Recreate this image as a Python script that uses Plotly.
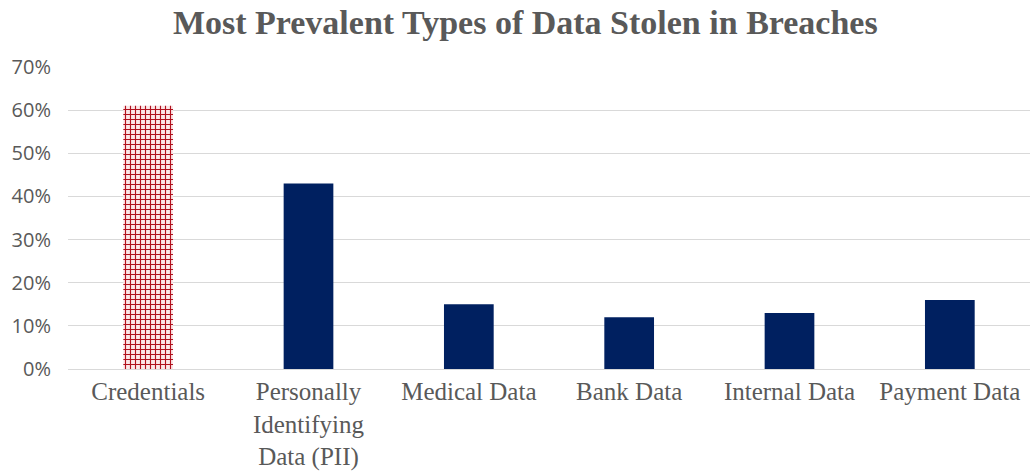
import plotly.graph_objects as go

categories = ["Credentials", "Personally<br>Identifying<br>Data (PII)", "Medical Data",
              "Bank Data", "Internal Data", "Payment Data"]
values = [0.61, 0.43, 0.15, 0.12, 0.13, 0.16]
tick_vals = [0, 0.1, 0.2, 0.3, 0.4, 0.5, 0.6, 0.7]
tick_text = ["0%", "10%", "20%", "30%", "40%", "50%", "60%", "70%"]

navy = "#002060"
red = "#b0101c"

fig = go.Figure()
fig.add_trace(go.Bar(
    x=categories[1:], y=values[1:], width=0.31,
    marker=dict(color=navy, line=dict(width=0)),
))
fig.add_trace(go.Bar(
    x=categories[:1], y=values[:1], width=0.31,
    marker=dict(color="#f6d6d8", line=dict(width=0),
                pattern=dict(shape="+", fgcolor=red, bgcolor="#fbe6e7",
                             fillmode="replace", size=5, solidity=0.4)),
))

fig.update_layout(
    width=1030, height=472,
    margin=dict(l=68, r=0, t=67, b=103),
    paper_bgcolor="white", plot_bgcolor="white",
    title=dict(text="<b>Most Prevalent Types of Data Stolen in Breaches</b>",
               x=0.51, xanchor="center", y=0.953, yanchor="middle",
               font=dict(family="Liberation Serif", size=34, color="#595959")),
    showlegend=False,
    barmode="overlay",
)
fig.update_yaxes(range=[0, 0.7], tickvals=tick_vals, ticktext=tick_text,
                 showgrid=True, gridcolor="#d9d9d9", gridwidth=1,
                 zeroline=False, showline=False, ticks="",
                 ticklabelstandoff=16,
                 tickfont=dict(family="Open Sans", size=20, color="#595959"))
fig.update_xaxes(categoryorder="array", categoryarray=categories,
                 showline=True, linecolor="#d9d9d9", linewidth=1, ticks="",
                 tickfont=dict(family="Liberation Serif", size=25, color="#595959"))

fig.write_html("out.html")
